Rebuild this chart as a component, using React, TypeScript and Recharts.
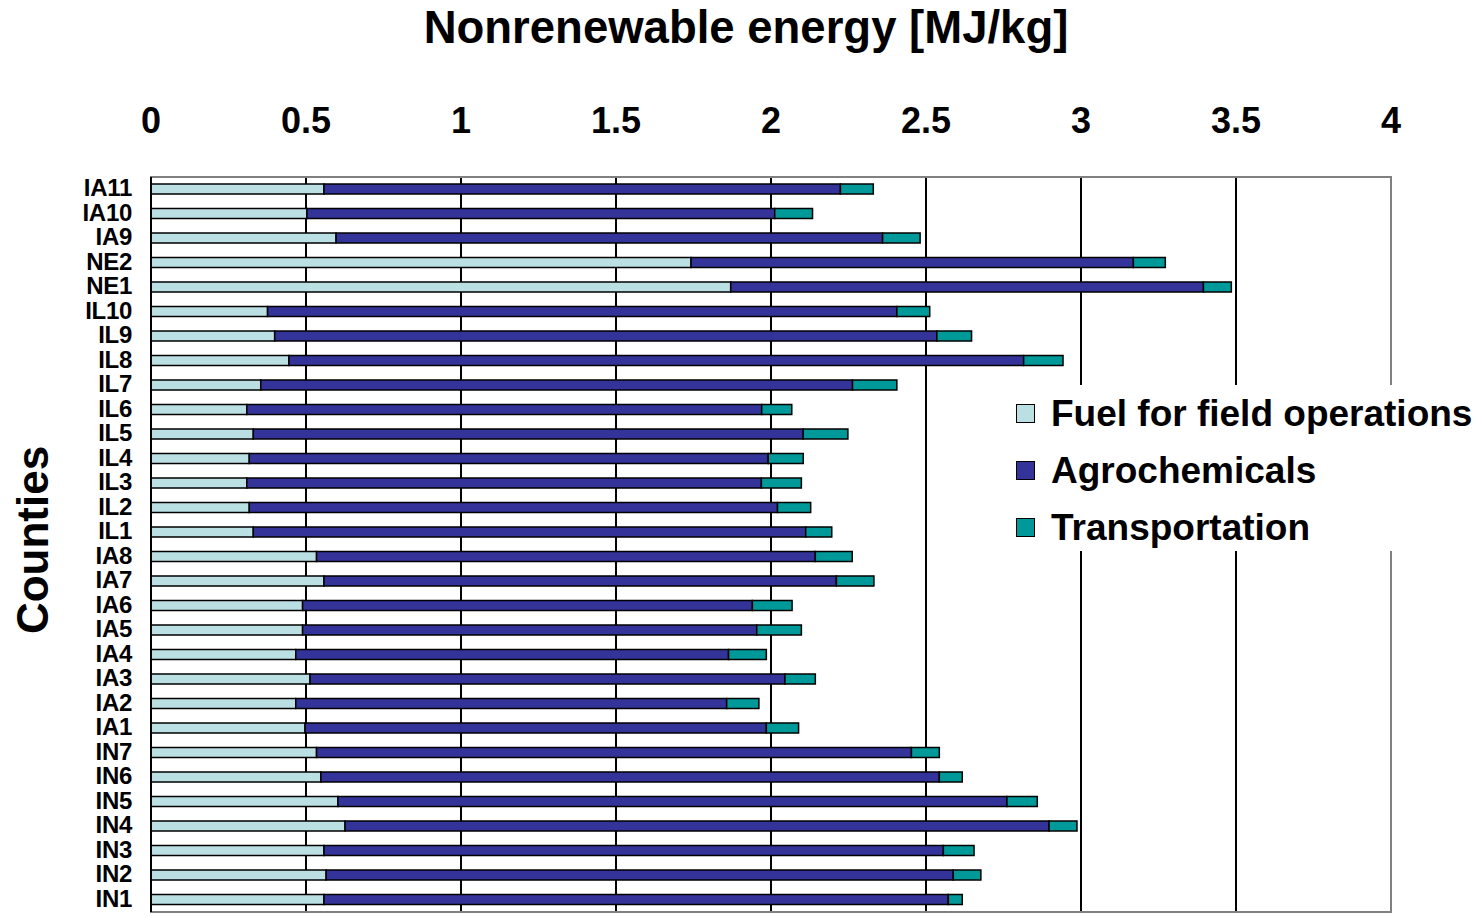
import * as React from "react";
import {Bar, BarChart, CartesianGrid, Legend, ReferenceArea, XAxis, YAxis} from "recharts";

// counties, top to bottom as drawn
const counties = ["IA11", "IA10", "IA9", "NE2", "NE1", "IL10", "IL9", "IL8", "IL7", "IL6", "IL5", "IL4", "IL3", "IL2", "IL1",
  "IA8", "IA7", "IA6", "IA5", "IA4", "IA3", "IA2", "IA1", "IN7", "IN6", "IN5", "IN4", "IN3", "IN2", "IN1"];

// MJ/kg
const fuel = [0.558, 0.503, 0.597, 1.742, 1.870, 0.376, 0.399, 0.445, 0.354, 0.309, 0.330, 0.317, 0.309, 0.317, 0.330,
  0.534, 0.558, 0.489, 0.489, 0.467, 0.513, 0.467, 0.497, 0.534, 0.548, 0.603, 0.626, 0.558, 0.565, 0.558];
const agro = [1.666, 1.509, 1.763, 1.427, 1.525, 2.030, 2.136, 2.370, 1.909, 1.661, 1.774, 1.674, 1.660, 1.704, 1.782,
  1.609, 1.653, 1.451, 1.465, 1.396, 1.532, 1.390, 1.488, 1.919, 1.995, 2.158, 2.271, 1.998, 2.023, 2.014];
const transport = [0.106, 0.122, 0.121, 0.103, 0.090, 0.106, 0.112, 0.127, 0.143, 0.097, 0.144, 0.113, 0.129, 0.107, 0.084,
  0.119, 0.121, 0.128, 0.144, 0.122, 0.098, 0.104, 0.104, 0.090, 0.074, 0.098, 0.090, 0.099, 0.089, 0.045];

const xTicks = [0, 0.5, 1, 1.5, 2, 2.5, 3, 3.5, 4];

const series = [
  {key: "fuel", name: "Fuel for field operations", color: "#BBE0E3"},
  {key: "agro", name: "Agrochemicals", color: "#333399"},
  {key: "transport", name: "Transportation", color: "#009999"},
];

const data = counties.map((name, i) => ({
  name,
  fuel: fuel[i],
  agro: agro[i],
  transport: transport[i],
}));

const FONT = "Arial, 'Liberation Sans', sans-serif";

const XTick = (props: any) => (
  <text x={props.x} y={props.y} dy={-36} textAnchor="middle" fontFamily={FONT} fontWeight="bold" fontSize={36} fill="#000">
    {props.payload.value}
  </text>
);

const YTick = (props: any) => (
  <text x={props.x} y={props.y} dx={-11} dy="0.3em" textAnchor="end" fontFamily={FONT} fontWeight="bold" fontSize={24}
        fill="#000" letterSpacing={-0.3}>
    {props.payload.value}
  </text>
);

const LegendBox = () => (
  <div style={{fontFamily: FONT, fontWeight: "bold", fontSize: 37, color: "#000"}}>
    {series.map((s) => (
      <div key={s.key} style={{display: "flex", alignItems: "center", height: 57}}>
        <span style={{
          display: "inline-block", width: 17, height: 17, background: s.color,
          border: "1.5px solid #000", marginRight: 16
        }}/>
        <span>{s.name}</span>
      </div>
    ))}
  </div>
);

export default function App() {
  return (
    <div style={{position: "absolute", left: 0, top: 0, width: 1483, height: 917, background: "#fff"}}>
      <BarChart width={1483} height={917} data={data} layout="vertical"
                margin={{top: 117, right: 92, bottom: 5, left: 91}} barSize={10}>
        <CartesianGrid horizontal={false} stroke="#000" strokeWidth={2}/>
        <ReferenceArea x1={0} x2={4} fill="none" stroke="#808080" strokeWidth={2} ifOverflow="visible"/>
        <XAxis type="number" orientation="top" domain={[0, 4]} ticks={xTicks} height={60}
               axisLine={false} tickLine={false} tick={<XTick/>}/>
        <YAxis type="category" dataKey="name" width={60} interval={0} tickLine={false}
               axisLine={{stroke: "#000", strokeWidth: 2}} tick={<YTick/>}/>
        {series.map((s) => (
          <Bar key={s.key} dataKey={s.key} name={s.name} stackId="a" fill={s.color}
               stroke="#000" strokeWidth={1.5} isAnimationActive={false}/>
        ))}
        <Legend layout="vertical" align="center" verticalAlign="middle" content={<LegendBox/>}
                wrapperStyle={{left: 1016, top: 385, width: 467, height: 166, background: "#fff"}}/>
      </BarChart>
      <svg width={1483} height={917} style={{position: "absolute", left: 0, top: 0, pointerEvents: "none"}}>
        <text x={746} y={43} textAnchor="middle" fontFamily={FONT} fontWeight="bold" fontSize={45.5}>
          Nonrenewable energy [MJ/kg]
        </text>
        <text x={0} y={0} transform="translate(48,540) rotate(-90)" textAnchor="middle" fontFamily={FONT}
              fontWeight="bold" fontSize={44}>
          Counties
        </text>
      </svg>
    </div>
  );
}
